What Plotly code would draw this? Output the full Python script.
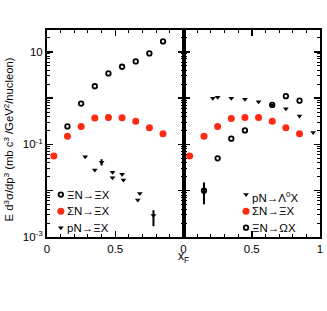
import plotly.graph_objects as go

# ---- data (left panel) ----
xi_xi_x = [0.15, 0.25, 0.35, 0.45, 0.55, 0.65, 0.75, 0.85]
xi_xi_y = [0.244, 0.76, 1.8, 3.4, 4.75, 6.2, 9.2, 16.7]

sig_xi_x = [0.05, 0.15, 0.25, 0.35, 0.45, 0.55, 0.65, 0.75, 0.85]
sig_xi_y = [0.056, 0.15, 0.244, 0.37, 0.38, 0.375, 0.316, 0.23, 0.17]

p_xi_x = [0.28, 0.35, 0.40, 0.48, 0.48, 0.55, 0.56, 0.68, 0.665, 0.78]
p_xi_y = [0.054, 0.028, 0.041, 0.025, 0.019, 0.0226, 0.017, 0.0087, 0.0063, 0.0029]
p_xi_err_up = [0, 0, 0.007, 0, 0, 0, 0, 0, 0, 0.0009]
p_xi_err_dn = [0, 0, 0.006, 0, 0, 0, 0, 0, 0, 0.0012]

# ---- data (right panel) ----
p_lam_x = [0.215, 0.25, 0.35, 0.45, 0.55, 0.65, 0.75, 0.85, 0.95]
p_lam_y = [0.99, 1.04, 0.99, 0.94, 0.83, 0.71, 0.59, 0.41, 0.18]

sig_xi2_x = [0.045, 0.15, 0.25, 0.35, 0.45, 0.55, 0.65, 0.75, 0.85]
sig_xi2_y = [0.056, 0.15, 0.244, 0.36, 0.38, 0.38, 0.316, 0.23, 0.17]

xi_om_x = [0.15, 0.25, 0.35, 0.45, 0.65, 0.75, 0.85]
xi_om_y = [0.010, 0.05, 0.133, 0.2, 0.71, 1.1, 0.88]
xi_om_err_up = [0.005, 0, 0, 0, 0, 0, 0]
xi_om_err_dn = [0.0049, 0, 0, 0, 0, 0, 0]

# ---- legend labels ----
left_labels = ["ΞN→ΞX", "ΣN→ΞX", "pN→ΞX"]
right_labels = ["pN→Λ<sup>0</sup>X", "ΣN→ΞX", "ΞN→ΩX"]

RED = "#ff2a12"
FONT = "Liberation Sans, Arial, sans-serif"

fig = go.Figure()

open_circ = dict(symbol="circle-open", size=4.5, color="black", line=dict(width=1.8, color="black"))
red_circ = dict(symbol="circle", size=7, color=RED)
tri = dict(symbol="triangle-down", size=5, color="black")

# left panel
fig.add_trace(go.Scatter(x=xi_xi_x, y=xi_xi_y, mode="markers", marker=open_circ,
                         name=left_labels[0], xaxis="x", yaxis="y", showlegend=False))
fig.add_trace(go.Scatter(x=sig_xi_x, y=sig_xi_y, mode="markers", marker=red_circ,
                         name=left_labels[1], xaxis="x", yaxis="y", showlegend=False))
fig.add_trace(go.Scatter(x=p_xi_x, y=p_xi_y, mode="markers", marker=tri,
                         error_y=dict(type="data", array=p_xi_err_up, arrayminus=p_xi_err_dn,
                                      color="black", thickness=2, width=0),
                         name=left_labels[2], xaxis="x", yaxis="y", showlegend=False))

# right panel
fig.add_trace(go.Scatter(x=p_lam_x, y=p_lam_y, mode="markers", marker=tri,
                         name=right_labels[0], xaxis="x2", yaxis="y2", showlegend=False))
fig.add_trace(go.Scatter(x=sig_xi2_x, y=sig_xi2_y, mode="markers", marker=red_circ,
                         name=right_labels[1], xaxis="x2", yaxis="y2", showlegend=False))
fig.add_trace(go.Scatter(x=xi_om_x, y=xi_om_y, mode="markers", marker=open_circ,
                         error_y=dict(type="data", array=xi_om_err_up, arrayminus=xi_om_err_dn,
                                      color="black", thickness=2, width=0),
                         name=right_labels[2], xaxis="x2", yaxis="y2", showlegend=False))

# legend keys (drawn on an invisible overlay axis spanning the whole plot area)
leg_rows = [0.205, 0.125, 0.045]
leg_left_x = 0.0507
leg_right_x = 0.729
left_styles = [open_circ, red_circ, tri]
right_styles = [tri, red_circ, open_circ]
annotations = []
for i in range(3):
    fig.add_trace(go.Scatter(x=[leg_left_x], y=[leg_rows[i]], mode="markers", marker=left_styles[i],
                             xaxis="x3", yaxis="y3", showlegend=False, hoverinfo="skip"))
    fig.add_trace(go.Scatter(x=[leg_right_x], y=[leg_rows[i]], mode="markers", marker=right_styles[i],
                             xaxis="x3", yaxis="y3", showlegend=False, hoverinfo="skip"))
    annotations.append(dict(text=left_labels[i], xref="paper", yref="paper", x=leg_left_x + 0.014,
                            y=leg_rows[i], xanchor="left", yanchor="middle", showarrow=False,
                            font=dict(size=11.5)))
    annotations.append(dict(text=right_labels[i], xref="paper", yref="paper", x=leg_right_x + 0.014,
                            y=leg_rows[i] - (0.01 if i == 0 else 0), xanchor="left", yanchor="middle",
                            showarrow=False, font=dict(size=11.5)))

annotations.append(dict(text="x<sub>F</sub>", xref="paper", yref="paper", x=0.5, y=-0.098,
                        xanchor="center", yanchor="middle", showarrow=False, font=dict(size=12)))
annotations.append(dict(text="E d<sup>3</sup>σ/dp<sup>3</sup> (mb c<sup>3</sup> /GeV<sup>2</sup>/nucleon)",
                        xref="paper", yref="paper", x=-0.141, y=0.469, xanchor="center", yanchor="middle",
                        textangle=-90, showarrow=False, font=dict(size=11.3)))

minor_y = [m * 10 ** e for e in range(-3, 2) for m in range(2, 10)]

xcommon = dict(range=[0, 1], showline=True, linewidth=2, linecolor="black", mirror="ticks",
               ticks="inside", ticklen=6, tickwidth=1.5, tickcolor="black", showgrid=False,
               zeroline=False, tickfont=dict(size=11.5, color="black", family=FONT),
               minor=dict(tickmode="linear", tick0=0, dtick=0.1, ticks="inside", ticklen=3,
                          tickcolor="black", tickwidth=1, showgrid=False))
ycommon = dict(type="log", range=[-3, 1.47], showline=True, linewidth=2, linecolor="black",
               mirror="ticks", ticks="inside", ticklen=6, tickwidth=1.5, tickcolor="black",
               showgrid=False, zeroline=False, tickfont=dict(size=11.5, color="black", family=FONT),
               tickmode="array", tickvals=[1e-3, 1e-2, 1e-1, 1, 10],
               ticktext=["10<sup>-3</sup>", "", "10<sup>-1</sup>", "", "10"],
               minor=dict(tickmode="array", tickvals=minor_y, ticks="inside", ticklen=3,
                          tickcolor="black", tickwidth=1, showgrid=False))

fig.update_layout(
    width=327, height=311,
    margin=dict(l=47, r=4, t=30, b=74),
    paper_bgcolor="white", plot_bgcolor="rgba(0,0,0,0)",
    font=dict(family=FONT, size=12, color="black"),
    xaxis=dict(domain=[0, 0.5], tickmode="array", tickvals=[0, 0.5], ticktext=["0", "0.5"], **xcommon),
    xaxis2=dict(domain=[0.5, 1], anchor="y2", tickmode="array", tickvals=[0, 0.5, 1],
                ticktext=["0", "0.5", "1"], **xcommon),
    xaxis3=dict(domain=[0, 1], anchor="y3", range=[0, 1], visible=False, fixedrange=True),
    yaxis=dict(anchor="x", **ycommon),
    yaxis2=dict(anchor="x2", showticklabels=False, **ycommon),
    yaxis3=dict(domain=[0, 1], anchor="x3", range=[0, 1], visible=False, fixedrange=True),
    showlegend=False,
    hovermode=False,
    annotations=annotations,
)

# remove the default 8px page margin so the figure sits at the window's top-left corner
fig.write_html("out.html",
               config={"displayModeBar": False, "staticPlot": True},
               post_script="document.body.style.margin='0px';document.body.style.overflow='hidden';")
